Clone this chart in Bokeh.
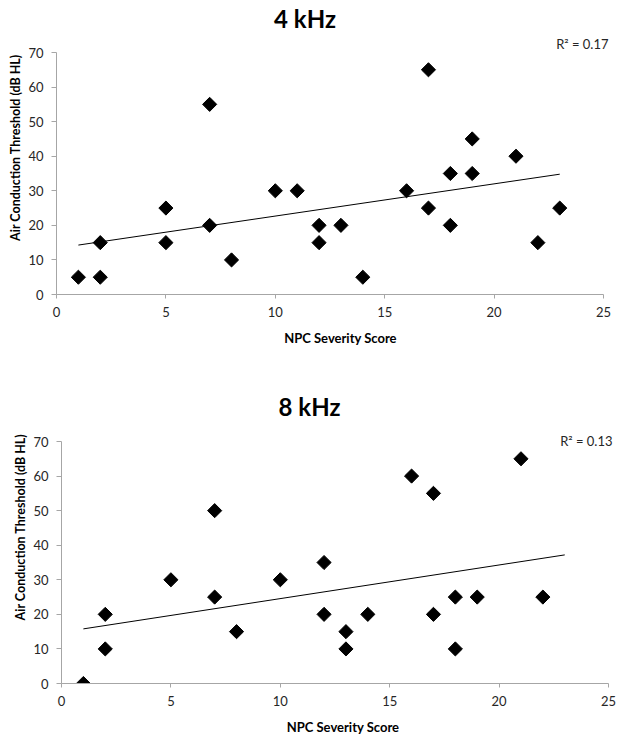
import numpy as np
from bokeh.plotting import figure
from bokeh.layouts import column
from bokeh.models import Label, Range1d, FixedTicker
from bokeh.embed import file_html
from bokeh.resources import INLINE

# ---- data ----
npc_4k = [1, 2, 2, 5, 5, 7, 7, 8, 10, 11, 12, 12, 13, 14, 16, 17, 17, 18, 18, 19, 19, 21, 22, 23]
thr_4k = [5, 15, 5, 25, 15, 55, 20, 10, 30, 30, 20, 15, 20, 5, 30, 65, 25, 35, 20, 45, 35, 40, 15, 25]

npc_8k = [1, 2, 2, 5, 7, 7, 8, 10, 12, 12, 13, 13, 14, 16, 17, 17, 18, 18, 19, 21, 22]
thr_8k = [0, 20, 10, 30, 50, 25, 15, 30, 35, 20, 15, 10, 20, 60, 55, 20, 25, 10, 25, 65, 25]

trend_x = [1, 23]
trend_4k = [14.3, 34.8]
trend_8k = [15.8, 37.2]

titles = ["4 kHz", "8 kHz"]
r2_labels = ["R\u00b2 = 0.17", "R\u00b2 = 0.13"]
x_ticks = [0, 5, 10, 15, 20, 25]
y_ticks = [0, 10, 20, 30, 40, 50, 60, 70]
x_title = "NPC Severity Score"
y_title = "Air Conduction Threshold (dB HL)"

FONT = "Lato"
AXIS_GRAY = "#a6a6a6"
PX_X = 547 / 25.0   # pixels per x unit
PX_Y = 242 / 70.0   # pixels per y unit


def make_chart(title, xs, ys, tx, ty, r2, width, height, left, bottom, shift,
               title_px, r2_px):
    """left/bottom: frame origin in figure pixels; shift: figure's left margin on the page;
    title_px/r2_px: page-pixel anchors relative to the figure's top."""
    frame_w = width - left
    frame_h = height - bottom
    x_end = frame_w / PX_X
    y_end = frame_h / PX_Y

    def to_data(px, py):
        return (px - shift - left) / PX_X, (height - bottom - py) / PX_Y

    p = figure(width=width, height=height, output_backend="svg", toolbar_location=None,
               x_range=Range1d(0, x_end), y_range=Range1d(0, y_end),
               min_border_left=left, min_border_right=0, min_border_top=0,
               min_border_bottom=bottom, margin=(0, 0, 0, shift))
    p.title = None
    p.outline_line_color = None
    p.xgrid.visible = False
    p.ygrid.visible = False
    p.background_fill_color = "white"
    p.border_fill_color = "white"

    for ax in (p.xaxis[0], p.yaxis[0]):
        ax.axis_line_color = AXIS_GRAY
        ax.major_tick_line_color = AXIS_GRAY
        ax.minor_tick_line_color = None
        ax.major_tick_in = 0
        ax.major_label_text_font = FONT
        ax.major_label_text_font_size = "13px"
        ax.major_label_text_color = "#262626"
        ax.axis_label_text_font = FONT
        ax.axis_label_text_font_style = "bold"
        ax.axis_label_text_color = "black"

    p.xaxis.axis_label_text_font_size = "13px"
    p.yaxis.axis_label_text_font_size = "12.5px"
    p.xaxis.ticker = FixedTicker(ticks=x_ticks)
    p.yaxis.ticker = FixedTicker(ticks=y_ticks)
    p.xaxis.bounds = (x_ticks[0], x_ticks[-1])
    p.yaxis.bounds = (y_ticks[0], y_ticks[-1])
    p.xaxis.major_tick_out = 4
    p.yaxis.major_tick_out = 5
    p.xaxis.major_label_standoff = 8
    p.yaxis.major_label_standoff = 8
    p.xaxis.axis_label_standoff = 10
    p.yaxis.axis_label_standoff = 2
    p.xaxis.axis_label = x_title
    p.yaxis.axis_label = y_title

    p.line(tx, ty, line_color="black", line_width=1)
    p.scatter(xs, ys, marker="square", angle=np.pi / 4, size=10,
              fill_color="black", line_color="black")

    tx_, ty_ = to_data(*title_px)
    p.add_layout(Label(x=tx_, y=ty_, text=title, text_align="center",
                       text_baseline="middle", text_font=FONT, text_font_size="24px",
                       text_font_style="bold", text_color="black"))
    rx_, ry_ = to_data(*r2_px)
    p.add_layout(Label(x=rx_, y=ry_, text=r2, text_align="right",
                       text_baseline="middle", text_font=FONT, text_font_size="13px",
                       text_color="#262626"))
    return p


# figure 1 occupies page y 0..370, figure 2 page y 370..742 (shifted 5px right)
p1 = make_chart(titles[0], npc_4k, thr_4k, trend_x, trend_4k, r2_labels[0],
                624, 370, 56, 76, 0, (304.5, 18), (608, 43))
p2 = make_chart(titles[1], npc_8k, thr_8k, trend_x, trend_8k, r2_labels[1],
                619, 372, 56, 59, 5, (309, 405.5 - 370), (612, 440 - 370))

layout = column(p1, p2, spacing=0)
open("out.html", "w").write(file_html(layout, INLINE))
